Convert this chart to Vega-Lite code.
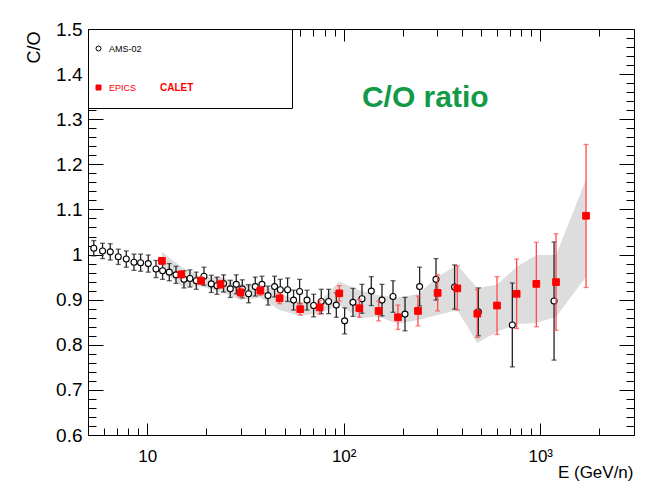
{
  "$schema": "https://vega.github.io/schema/vega-lite/v6.json",
  "width": 546,
  "height": 406,
  "autosize": {"type": "none"},
  "padding": {"left": 88, "top": 29, "right": 12, "bottom": 61},
  "background": "white",
  "config": {
    "view": {"stroke": "black", "strokeWidth": 1},
    "legend": {
      "orient": "none", "legendX": 0, "legendY": 0,
      "strokeColor": "black", "fillColor": "white",
      "padding": 15, "rowPadding": 29,
      "labelFont": "Liberation Sans", "labelFontSize": 9, "labelOffset": 6,
      "symbolSize": 25, "symbolStrokeWidth": 1, "symbolOffset": -9,
      "titleOrient": "right", "titleColor": "#ff0000", "titleFont": "Liberation Sans",
      "titleFontSize": 10, "titleFontWeight": "bold", "titlePadding": 18,
      "titleAnchor": "end", "titleBaseline": "bottom", "titleLimit": 400
    }
  },
  "datasets": {
    "ams": [
      {"series": "AMS-02", "E": 5.35, "v": 1.014, "lo": 0.997, "hi": 1.031},
      {"series": "AMS-02", "E": 5.93, "v": 1.008, "lo": 0.991, "hi": 1.025},
      {"series": "AMS-02", "E": 6.49, "v": 1.006, "lo": 0.988, "hi": 1.024},
      {"series": "AMS-02", "E": 7.13, "v": 0.995, "lo": 0.978, "hi": 1.012},
      {"series": "AMS-02", "E": 7.83, "v": 0.990, "lo": 0.972, "hi": 1.008},
      {"series": "AMS-02", "E": 8.57, "v": 0.983, "lo": 0.965, "hi": 1.001},
      {"series": "AMS-02", "E": 9.26, "v": 0.982, "lo": 0.963, "hi": 1.001},
      {"series": "AMS-02", "E": 10.13, "v": 0.980, "lo": 0.961, "hi": 0.999},
      {"series": "AMS-02", "E": 11.09, "v": 0.968, "lo": 0.949, "hi": 0.987},
      {"series": "AMS-02", "E": 11.98, "v": 0.964, "lo": 0.945, "hi": 0.983},
      {"series": "AMS-02", "E": 12.96, "v": 0.961, "lo": 0.942, "hi": 0.980},
      {"series": "AMS-02", "E": 14.02, "v": 0.955, "lo": 0.936, "hi": 0.974},
      {"series": "AMS-02", "E": 15.39, "v": 0.945, "lo": 0.926, "hi": 0.964},
      {"series": "AMS-02", "E": 16.51, "v": 0.947, "lo": 0.928, "hi": 0.966},
      {"series": "AMS-02", "E": 17.78, "v": 0.942, "lo": 0.923, "hi": 0.961},
      {"series": "AMS-02", "E": 19.45, "v": 0.952, "lo": 0.932, "hi": 0.972},
      {"series": "AMS-02", "E": 21.20, "v": 0.935, "lo": 0.916, "hi": 0.954},
      {"series": "AMS-02", "E": 22.66, "v": 0.931, "lo": 0.912, "hi": 0.950},
      {"series": "AMS-02", "E": 24.48, "v": 0.936, "lo": 0.917, "hi": 0.955},
      {"series": "AMS-02", "E": 26.48, "v": 0.924, "lo": 0.905, "hi": 0.943},
      {"series": "AMS-02", "E": 28.40, "v": 0.934, "lo": 0.913, "hi": 0.955},
      {"series": "AMS-02", "E": 30.48, "v": 0.924, "lo": 0.904, "hi": 0.944},
      {"series": "AMS-02", "E": 32.81, "v": 0.913, "lo": 0.893, "hi": 0.933},
      {"series": "AMS-02", "E": 35.49, "v": 0.929, "lo": 0.908, "hi": 0.950},
      {"series": "AMS-02", "E": 38.38, "v": 0.934, "lo": 0.915, "hi": 0.952},
      {"series": "AMS-02", "E": 41.19, "v": 0.909, "lo": 0.888, "hi": 0.930},
      {"series": "AMS-02", "E": 44.49, "v": 0.929, "lo": 0.906, "hi": 0.952},
      {"series": "AMS-02", "E": 47.58, "v": 0.922, "lo": 0.899, "hi": 0.945},
      {"series": "AMS-02", "E": 51.82, "v": 0.922, "lo": 0.896, "hi": 0.948},
      {"series": "AMS-02", "E": 55.59, "v": 0.899, "lo": 0.877, "hi": 0.921},
      {"series": "AMS-02", "E": 59.66, "v": 0.918, "lo": 0.891, "hi": 0.945},
      {"series": "AMS-02", "E": 65.06, "v": 0.899, "lo": 0.877, "hi": 0.921},
      {"series": "AMS-02", "E": 70.29, "v": 0.887, "lo": 0.862, "hi": 0.912},
      {"series": "AMS-02", "E": 76.91, "v": 0.896, "lo": 0.869, "hi": 0.923},
      {"series": "AMS-02", "E": 83.8, "v": 0.896, "lo": 0.869, "hi": 0.923},
      {"series": "AMS-02", "E": 91.7, "v": 0.888, "lo": 0.861, "hi": 0.915},
      {"series": "AMS-02", "E": 101.1, "v": 0.853, "lo": 0.824, "hi": 0.882},
      {"series": "AMS-02", "E": 111.5, "v": 0.894, "lo": 0.863, "hi": 0.925},
      {"series": "AMS-02", "E": 123.9, "v": 0.902, "lo": 0.870, "hi": 0.934},
      {"series": "AMS-02", "E": 138.2, "v": 0.919, "lo": 0.887, "hi": 0.951},
      {"series": "AMS-02", "E": 156.6, "v": 0.899, "lo": 0.864, "hi": 0.934},
      {"series": "AMS-02", "E": 178.2, "v": 0.907, "lo": 0.872, "hi": 0.942},
      {"series": "AMS-02", "E": 205.1, "v": 0.868, "lo": 0.831, "hi": 0.905},
      {"series": "AMS-02", "E": 243.4, "v": 0.929, "lo": 0.886, "hi": 0.972},
      {"series": "AMS-02", "E": 294.9, "v": 0.945, "lo": 0.899, "hi": 0.991},
      {"series": "AMS-02", "E": 366.7, "v": 0.928, "lo": 0.879, "hi": 0.977},
      {"series": "AMS-02", "E": 484.2, "v": 0.873, "lo": 0.820, "hi": 0.926},
      {"series": "AMS-02", "E": 721.1, "v": 0.844, "lo": 0.751, "hi": 0.937},
      {"series": "AMS-02", "E": 1175.9, "v": 0.897, "lo": 0.766, "hi": 1.028}
    ],
    "calet": [
      {"series": "EPICS", "E": 11.89, "v": 0.986, "lo": 0.979, "hi": 0.993, "blo": 0.966, "bhi": 1.006},
      {"series": "EPICS", "E": 14.91, "v": 0.956, "lo": 0.948, "hi": 0.964, "blo": 0.929, "bhi": 0.973},
      {"series": "EPICS", "E": 18.78, "v": 0.942, "lo": 0.934, "hi": 0.950, "blo": 0.929, "bhi": 0.951},
      {"series": "EPICS", "E": 23.63, "v": 0.934, "lo": 0.925, "hi": 0.943, "blo": 0.917, "bhi": 0.950},
      {"series": "EPICS", "E": 29.87, "v": 0.916, "lo": 0.906, "hi": 0.926, "blo": 0.899, "bhi": 0.935},
      {"series": "EPICS", "E": 37.64, "v": 0.920, "lo": 0.910, "hi": 0.930, "blo": 0.904, "bhi": 0.937},
      {"series": "EPICS", "E": 47.19, "v": 0.903, "lo": 0.891, "hi": 0.915, "blo": 0.877, "bhi": 0.915},
      {"series": "EPICS", "E": 60.12, "v": 0.879, "lo": 0.866, "hi": 0.892, "blo": 0.864, "bhi": 0.895},
      {"series": "EPICS", "E": 75.42, "v": 0.883, "lo": 0.868, "hi": 0.898, "blo": 0.870, "bhi": 0.896},
      {"series": "EPICS", "E": 94.97, "v": 0.914, "lo": 0.897, "hi": 0.931, "blo": 0.888, "bhi": 0.940},
      {"series": "EPICS", "E": 120.1, "v": 0.881, "lo": 0.861, "hi": 0.901, "blo": 0.859, "bhi": 0.921},
      {"series": "EPICS", "E": 150.5, "v": 0.875, "lo": 0.853, "hi": 0.897, "blo": 0.862, "bhi": 0.910},
      {"series": "EPICS", "E": 188.9, "v": 0.861, "lo": 0.834, "hi": 0.888, "blo": 0.846, "bhi": 0.905},
      {"series": "EPICS", "E": 238.8, "v": 0.875, "lo": 0.842, "hi": 0.908, "blo": 0.855, "bhi": 0.912},
      {"series": "EPICS", "E": 300.6, "v": 0.915, "lo": 0.875, "hi": 0.955, "blo": 0.866, "bhi": 0.951},
      {"series": "EPICS", "E": 378.5, "v": 0.925, "lo": 0.877, "hi": 0.975, "blo": 0.877, "bhi": 0.977},
      {"series": "EPICS", "E": 478.6, "v": 0.869, "lo": 0.816, "hi": 0.922, "blo": 0.804, "bhi": 0.926},
      {"series": "EPICS", "E": 602.8, "v": 0.887, "lo": 0.823, "hi": 0.951, "blo": 0.829, "bhi": 0.933},
      {"series": "EPICS", "E": 758.6, "v": 0.913, "lo": 0.836, "hi": 0.990, "blo": 0.846, "bhi": 0.973},
      {"series": "EPICS", "E": 955.4, "v": 0.935, "lo": 0.840, "hi": 1.027, "blo": 0.848, "bhi": 0.999},
      {"series": "EPICS", "E": 1203.3, "v": 0.939, "lo": 0.832, "hi": 1.046, "blo": 0.862, "bhi": 0.999},
      {"series": "EPICS", "E": 1710.6, "v": 1.086, "lo": 0.927, "hi": 1.244, "blo": 0.950, "bhi": 1.167}
    ]
  },
  "resolve": {"axis": {"x": "independent", "y": "independent"}},
  "layer": [
    {
      "data": {"name": "calet"},
      "mark": {"type": "area", "color": "#dddddd", "opacity": 1},
      "encoding": {
        "x": {"field": "E", "type": "quantitative",
          "scale": {"type": "log", "domain": [5, 3000], "nice": false},
          "axis": {"orient": "bottom", "values": [10, 100, 1000], "ticks": false, "domain": false, "grid": false,
            "labelExpr": "datum.value == 10 ? '10' : (datum.value == 100 ? '10²' : '10³')",
            "labelFont": "Liberation Sans Narrow, Liberation Sans", "labelFontSize": 17, "labelColor": "black",
            "labelPadding": 13, "labelFlush": false,
            "title": "E (GeV/n)", "titleFont": "Liberation Sans", "titleFontSize": 17, "titleFontWeight": "normal",
            "titleColor": "black", "titleX": 545, "titleY": 37, "titleAlign": "right", "titleBaseline": "middle"}},
        "y": {"field": "blo", "type": "quantitative",
          "scale": {"domain": [0.6, 1.5], "nice": false, "zero": false},
          "axis": {"orient": "left", "values": [0.6, 0.7, 0.8, 0.9, 1.0, 1.1, 1.2, 1.3, 1.4, 1.5], "ticks": false, "domain": false, "grid": false,
            "format": ".1~f", "labelFont": "Liberation Sans Narrow, Liberation Sans", "labelFontSize": 19, "labelColor": "black",
            "labelPadding": 6, "labelFlush": false,
            "title": "C/O", "titleFont": "Liberation Sans", "titleFontSize": 18, "titleFontWeight": "normal",
            "titleColor": "black", "titleX": -54, "titleY": 2, "titleAngle": -90, "titleAlign": "right", "titleBaseline": "middle"}},
        "y2": {"field": "bhi"}
      }
    },
    {
      "data": {"name": "ams"},
      "mark": {"type": "errorbar", "color": "#222222", "thickness": 1.3, "ticks": {"size": 5, "thickness": 1.3}},
      "encoding": {
        "x": {"field": "E", "type": "quantitative",
          "scale": {"type": "log", "domain": [5, 3000], "nice": false},
          "axis": {"orient": "bottom", "values": [10, 100, 1000], "labels": false, "domain": false, "grid": false,
            "tickSize": -12, "tickColor": "black", "tickWidth": 1, "title": null}},
        "y": {"field": "lo", "type": "quantitative",
          "scale": {"domain": [0.6, 1.5], "nice": false, "zero": false},
          "axis": {"orient": "left", "values": [0.6, 0.7, 0.8, 0.9, 1.0, 1.1, 1.2, 1.3, 1.4, 1.5], "labels": false, "domain": false, "grid": false,
            "tickSize": -15, "tickColor": "black", "tickWidth": 1, "title": null}},
        "y2": {"field": "hi"}
      }
    },
    {
      "data": {"name": "ams"},
      "mark": {"type": "point", "size": 36, "strokeWidth": 1.1, "opacity": 1},
      "encoding": {
        "x": {"field": "E", "type": "quantitative",
          "scale": {"type": "log", "domain": [5, 3000], "nice": false},
          "axis": {"orient": "bottom", "values": [6, 7, 8, 9, 20, 30, 40, 50, 60, 70, 80, 90, 200, 300, 400, 500, 600, 700, 800, 900, 2000], "labels": false, "domain": false, "grid": false,
            "tickSize": -7, "tickColor": "black", "tickWidth": 1, "title": null}},
        "y": {"field": "v", "type": "quantitative",
          "scale": {"domain": [0.6, 1.5], "nice": false, "zero": false},
          "axis": {"orient": "left", "values": [0.62, 0.64, 0.66, 0.68, 0.72, 0.74, 0.76, 0.78, 0.82, 0.84, 0.86, 0.88, 0.92, 0.94, 0.96, 0.98, 1.02, 1.04, 1.06, 1.08, 1.12, 1.14, 1.16, 1.18, 1.22, 1.24, 1.26, 1.28, 1.32, 1.34, 1.36, 1.38, 1.42, 1.44, 1.46, 1.48], "labels": false, "domain": false, "grid": false,
            "tickSize": -8, "tickColor": "black", "tickWidth": 1, "title": null}},
        "shape": {"field": "series", "type": "nominal", "scale": {"domain": ["AMS-02", "EPICS"], "range": ["circle", "square"]},
          "legend": {"title": "CALET\u00a0\u00a0\u00a0\u00a0\u00a0\u00a0\u00a0\u00a0\u00a0\u00a0\u00a0\u00a0\u00a0\u00a0\u00a0\u00a0\u00a0\u00a0\u00a0\u00a0\u00a0\u00a0\u00a0\u00a0\u00a0\u00a0\u00a0\u00a0\u00a0\u00a0\u200b",
            "labelColor": {"expr": "datum.value == 'EPICS' ? '#ff0000' : '#000000'"}}},
        "stroke": {"field": "series", "type": "nominal", "scale": {"domain": ["AMS-02", "EPICS"], "range": ["#000000", "#ff0000"]},
          "legend": {"title": "CALET\u00a0\u00a0\u00a0\u00a0\u00a0\u00a0\u00a0\u00a0\u00a0\u00a0\u00a0\u00a0\u00a0\u00a0\u00a0\u00a0\u00a0\u00a0\u00a0\u00a0\u00a0\u00a0\u00a0\u00a0\u00a0\u00a0\u00a0\u00a0\u00a0\u00a0\u200b",
            "labelColor": {"expr": "datum.value == 'EPICS' ? '#ff0000' : '#000000'"}}},
        "fill": {"field": "series", "type": "nominal", "scale": {"domain": ["AMS-02", "EPICS"], "range": ["#ffffff", "#ff0000"]},
          "legend": {"title": "CALET\u00a0\u00a0\u00a0\u00a0\u00a0\u00a0\u00a0\u00a0\u00a0\u00a0\u00a0\u00a0\u00a0\u00a0\u00a0\u00a0\u00a0\u00a0\u00a0\u00a0\u00a0\u00a0\u00a0\u00a0\u00a0\u00a0\u00a0\u00a0\u00a0\u00a0\u200b",
            "labelColor": {"expr": "datum.value == 'EPICS' ? '#ff0000' : '#000000'"}}}
      }
    },
    {
      "data": {"name": "calet"},
      "mark": {"type": "errorbar", "color": "#ff4a4a", "thickness": 1.3, "ticks": {"size": 5, "thickness": 1.3}},
      "encoding": {
        "x": {"field": "E", "type": "quantitative",
          "scale": {"type": "log", "domain": [5, 3000], "nice": false},
          "axis": {"orient": "top", "values": [10, 100, 1000], "labels": false, "domain": false, "grid": false,
            "tickSize": -12, "tickColor": "black", "tickWidth": 1, "title": null}},
        "y": {"field": "lo", "type": "quantitative",
          "scale": {"domain": [0.6, 1.5], "nice": false, "zero": false},
          "axis": {"orient": "right", "values": [0.6, 0.7, 0.8, 0.9, 1.0, 1.1, 1.2, 1.3, 1.4, 1.5], "labels": false, "domain": false, "grid": false,
            "tickSize": -15, "tickColor": "black", "tickWidth": 1, "title": null}},
        "y2": {"field": "hi"}
      }
    },
    {
      "data": {"name": "calet"},
      "mark": {"type": "point", "size": 45, "strokeWidth": 1, "opacity": 1},
      "encoding": {
        "x": {"field": "E", "type": "quantitative",
          "scale": {"type": "log", "domain": [5, 3000], "nice": false},
          "axis": {"orient": "top", "values": [6, 7, 8, 9, 20, 30, 40, 50, 60, 70, 80, 90, 200, 300, 400, 500, 600, 700, 800, 900, 2000], "labels": false, "domain": false, "grid": false,
            "tickSize": -7, "tickColor": "black", "tickWidth": 1, "title": null}},
        "y": {"field": "v", "type": "quantitative",
          "scale": {"domain": [0.6, 1.5], "nice": false, "zero": false},
          "axis": {"orient": "right", "values": [0.62, 0.64, 0.66, 0.68, 0.72, 0.74, 0.76, 0.78, 0.82, 0.84, 0.86, 0.88, 0.92, 0.94, 0.96, 0.98, 1.02, 1.04, 1.06, 1.08, 1.12, 1.14, 1.16, 1.18, 1.22, 1.24, 1.26, 1.28, 1.32, 1.34, 1.36, 1.38, 1.42, 1.44, 1.46, 1.48], "labels": false, "domain": false, "grid": false,
            "tickSize": -8, "tickColor": "black", "tickWidth": 1, "title": null}},
        "shape": {"field": "series", "type": "nominal", "scale": {"domain": ["AMS-02", "EPICS"], "range": ["circle", "square"]},
          "legend": {"title": "CALET\u00a0\u00a0\u00a0\u00a0\u00a0\u00a0\u00a0\u00a0\u00a0\u00a0\u00a0\u00a0\u00a0\u00a0\u00a0\u00a0\u00a0\u00a0\u00a0\u00a0\u00a0\u00a0\u00a0\u00a0\u00a0\u00a0\u00a0\u00a0\u00a0\u00a0\u200b",
            "labelColor": {"expr": "datum.value == 'EPICS' ? '#ff0000' : '#000000'"}}},
        "stroke": {"field": "series", "type": "nominal", "scale": {"domain": ["AMS-02", "EPICS"], "range": ["#000000", "#ff0000"]},
          "legend": {"title": "CALET\u00a0\u00a0\u00a0\u00a0\u00a0\u00a0\u00a0\u00a0\u00a0\u00a0\u00a0\u00a0\u00a0\u00a0\u00a0\u00a0\u00a0\u00a0\u00a0\u00a0\u00a0\u00a0\u00a0\u00a0\u00a0\u00a0\u00a0\u00a0\u00a0\u00a0\u200b",
            "labelColor": {"expr": "datum.value == 'EPICS' ? '#ff0000' : '#000000'"}}},
        "fill": {"field": "series", "type": "nominal", "scale": {"domain": ["AMS-02", "EPICS"], "range": ["#ffffff", "#ff0000"]},
          "legend": {"title": "CALET\u00a0\u00a0\u00a0\u00a0\u00a0\u00a0\u00a0\u00a0\u00a0\u00a0\u00a0\u00a0\u00a0\u00a0\u00a0\u00a0\u00a0\u00a0\u00a0\u00a0\u00a0\u00a0\u00a0\u00a0\u00a0\u00a0\u00a0\u00a0\u00a0\u00a0\u200b",
            "labelColor": {"expr": "datum.value == 'EPICS' ? '#ff0000' : '#000000'"}}}
      }
    },
    {
      "data": {"values": [{}]},
      "mark": {"type": "text", "text": "C/O ratio", "font": "Liberation Sans", "fontSize": 30, "fontWeight": "bold", "color": "#129a48", "align": "center", "baseline": "middle"},
      "encoding": {
        "x": {"datum": 260, "type": "quantitative", "axis": null},
        "y": {"datum": 1.347, "type": "quantitative", "axis": null}
      }
    }
  ]
}
